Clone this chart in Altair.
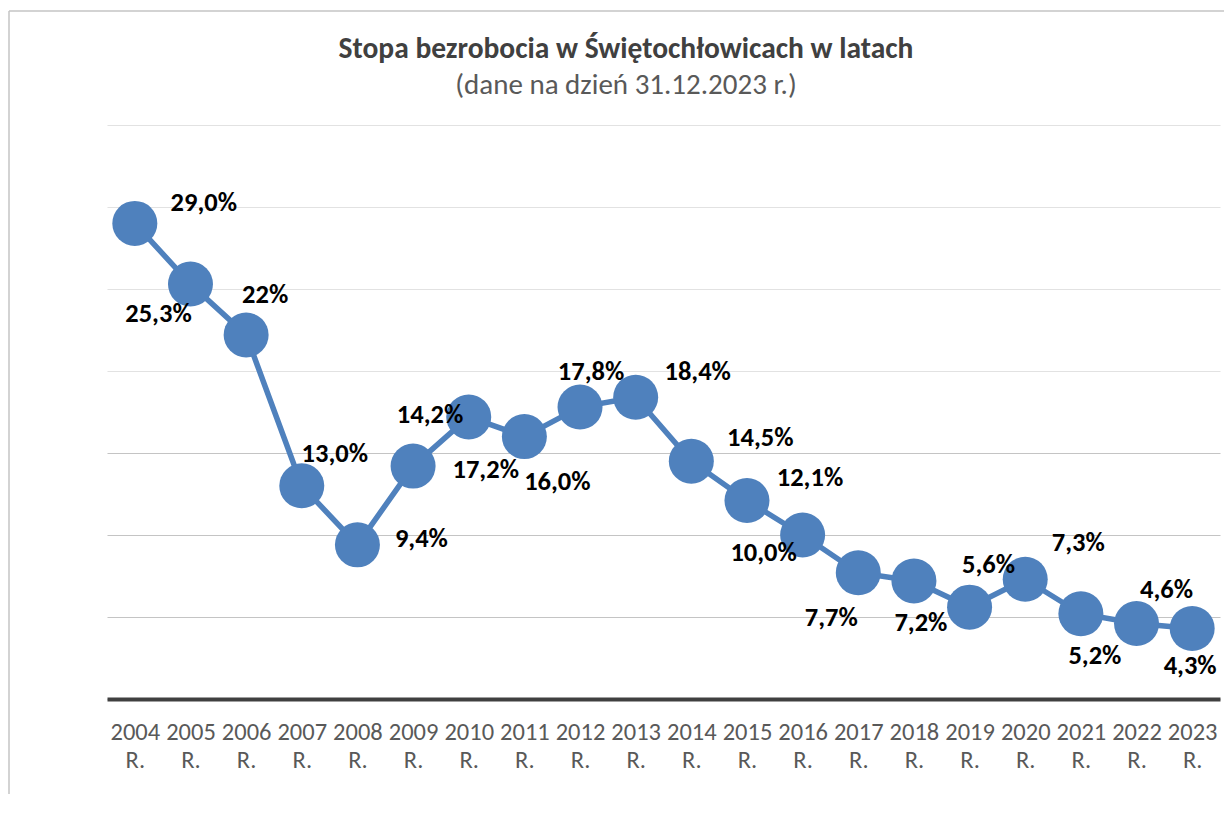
import altair as alt
import pandas as pd

# ---- data ----
years = ["2004 R.", "2005 R.", "2006 R.", "2007 R.", "2008 R.", "2009 R.", "2010 R.",
         "2011 R.", "2012 R.", "2013 R.", "2014 R.", "2015 R.", "2016 R.", "2017 R.",
         "2018 R.", "2019 R.", "2020 R.", "2021 R.", "2022 R.", "2023 R."]
rates = [29.0, 25.3, 22.2, 13.0, 9.4, 14.2, 17.2, 16.0, 17.8, 18.4,
         14.5, 12.1, 10.0, 7.7, 7.2, 5.6, 7.3, 5.2, 4.6, 4.3]
labels = ["29,0%", "25,3%", "22%", "13,0%", "9,4%", "14,2%", "17,2%", "16,0%", "17,8%", "18,4%",
          "14,5%", "12,1%", "10,0%", "7,7%", "7,2%", "5,6%", "7,3%", "5,2%", "4,6%", "4,3%"]

TITLE = "Stopa bezrobocia w Świętochłowicach w latach"
SUBTITLE = "(dane na dzień 31.12.2023 r.)"

# ---- label placement (annotation layout, pixels relative to the marker) ----
LABEL_OFFSETS = {
    "2004 R.": (69, -20), "2005 R.": (-32, 30), "2006 R.": (19, -40), "2007 R.": (33, -32),
    "2008 R.": (64, -6), "2009 R.": (17, -51), "2010 R.": (17, 53), "2011 R.": (33, 45),
    "2012 R.": (11, -35), "2013 R.": (62, -25), "2014 R.": (69, -23), "2015 R.": (63, -23),
    "2016 R.": (-39, 18), "2017 R.": (-27, 45), "2018 R.": (7, 42), "2019 R.": (19, -42),
    "2020 R.": (53, -36), "2021 R.": (14, 42), "2022 R.": (30, -34), "2023 R.": (-2, 38),
}

df = pd.DataFrame({"year": years, "rate": rates, "label": labels})

FONT = "Carlito, Lato, sans-serif"
BLUE = "#4F81BD"
W, H = 1113, 574

x_enc = alt.X(
    "year:N", sort=years,
    scale=alt.Scale(type="point", padding=0.5),
    axis=alt.Axis(
        title=None, labelAngle=0, ticks=False, grid=False,
        domainColor="#404040", domainWidth=4,
        labelExpr="split(datum.label, ' ')",
        labelFont=FONT, labelFontSize=24.5, labelColor="#595959",
        labelLineHeight=28, labelPadding=21,
    ),
)
y_enc = alt.Y(
    "rate:Q",
    scale=alt.Scale(domain=[0, 35], nice=False),
    axis=alt.Axis(
        title=None, labels=False, ticks=False, domain=False,
        values=[0, 5, 10, 15, 20, 25, 30, 35],
        gridColor=alt.condition("datum.value <= 17", alt.value("#c4c4c4"), alt.value("#e2e2e2")),
        gridWidth=1.2,
    ),
)

base = alt.Chart(df)

line = base.mark_line(color=BLUE, strokeWidth=5.5).encode(x=x_enc, y=y_enc)
points = base.mark_circle(color=BLUE, size=2025, opacity=1).encode(x=x_enc, y=y_enc)

label_layers = []
for yr, (dx, dy) in LABEL_OFFSETS.items():
    label_layers.append(
        base.transform_filter(alt.datum.year == yr)
        .mark_text(dx=dx, dy=dy, font=FONT, fontSize=26.5, fontWeight="bold",
                   color="#000000", align="center", baseline="middle")
        .encode(x=x_enc, y=y_enc, text="label:N")
    )

one = pd.DataFrame({"k": [0]})
left_border = alt.Chart(one).mark_rule(color="#c4c4c4", strokeWidth=1.5).encode(
    x=alt.value(-98), y=alt.value(-114), y2=alt.value(700))
top_border = alt.Chart(one).mark_rule(color="#c4c4c4", strokeWidth=1.5).encode(
    x=alt.value(-98), x2=alt.value(1130), y=alt.value(-114))

title_mark = alt.Chart(one).mark_text(
    text=TITLE, font=FONT, fontSize=29.5, fontWeight="bold", color="#404040",
    align="center", baseline="alphabetic",
).encode(x=alt.value(519), y=alt.value(-67))
subtitle_mark = alt.Chart(one).mark_text(
    text=SUBTITLE, font=FONT, fontSize=29, color="#595959",
    align="center", baseline="alphabetic",
).encode(x=alt.value(519), y=alt.value(-31))

chart = alt.layer(
    left_border, top_border, title_mark, subtitle_mark, line, points, *label_layers
).properties(
    width=W, height=H,
    autosize=alt.AutoSizeParams(type="none"),
    padding={"left": 99, "top": 117, "right": 4, "bottom": 95},
).configure_view(stroke=None)

chart.save("out.html", embed_options={"renderer": "svg", "actions": False})
